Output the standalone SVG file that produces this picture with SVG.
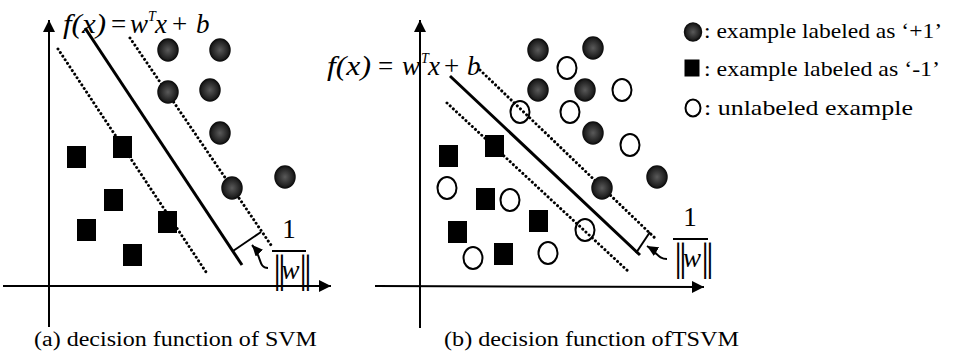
<svg xmlns="http://www.w3.org/2000/svg" width="979" height="359" viewBox="0 0 979 359">
<style>
.ax{stroke:#000;stroke-width:2;fill:none}
.sol{stroke:#000;stroke-width:3;fill:none;stroke-linecap:butt}
.dot{stroke:#000;stroke-width:3;fill:none;stroke-linecap:round;stroke-dasharray:0.01 4.3}
.thin{stroke:#000;stroke-width:2;fill:none}
.pos{fill:url(#g);stroke:#111;stroke-width:1.5}
.unl{fill:#fff;stroke:#000;stroke-width:2}
.neg{fill:#000}
.math{font-family:"Liberation Serif",serif;font-size:27px;fill:#000}
.it{font-style:italic}
.lg{font-family:"Liberation Serif",serif;font-size:21px;fill:#000}
.cap{font-family:"Liberation Serif",serif;font-size:20px;fill:#000}
.bar{font-family:"Liberation Serif",serif;font-size:39px;fill:#000;letter-spacing:-3px}
</style>
<defs>
<radialGradient id="g" cx="0.5" cy="0.5" r="0.5">
<stop offset="0" stop-color="#5a5a5a"/><stop offset="0.6" stop-color="#303030"/><stop offset="1" stop-color="#151515"/>
</radialGradient>
<marker id="ah" markerUnits="userSpaceOnUse" markerWidth="14" markerHeight="12" refX="12" refY="6" orient="auto">
<path d="M0,0 L12,6 L0,12 Z" fill="#000"/>
</marker>
<marker id="ch" markerUnits="userSpaceOnUse" markerWidth="12" markerHeight="10" refX="11" refY="5" orient="auto">
<path d="M0,0 L11,5 L0,10 Z" fill="#000"/>
</marker>
</defs>

<!-- axes -->
<g id="axes">
<line class="ax" x1="49" y1="327" x2="49" y2="20" marker-end="url(#ah)"/>
<line class="ax" x1="3" y1="286" x2="331" y2="286" marker-end="url(#ah)"/>
<line class="ax" x1="420" y1="328" x2="420" y2="20" marker-end="url(#ah)"/>
<line class="ax" x1="375" y1="286" x2="704" y2="287" marker-end="url(#ah)"/>
</g>

<!-- unlabeled (drawn under lines) -->
<g id="unlabeled-b">
<ellipse class="unl" cx="567" cy="68" rx="9.5" ry="11"/>
<ellipse class="unl" cx="622" cy="90" rx="9.5" ry="11"/>
<ellipse class="unl" cx="520" cy="112" rx="9.5" ry="11"/>
<ellipse class="unl" cx="570" cy="112" rx="9.5" ry="11"/>
<ellipse class="unl" cx="630" cy="145" rx="9.5" ry="11"/>
<ellipse class="unl" cx="447" cy="188" rx="9.5" ry="11"/>
<ellipse class="unl" cx="510" cy="200" rx="9.5" ry="11"/>
<ellipse class="unl" cx="585" cy="230" rx="9.5" ry="11"/>
<ellipse class="unl" cx="473" cy="258" rx="9.5" ry="11"/>
<ellipse class="unl" cx="548" cy="253" rx="9.5" ry="11"/>
</g>

<!-- connectors: hyperplanes, margins, arrows -->
<g id="connectors">
<line class="sol" x1="85" y1="28" x2="242" y2="265"/>
<line class="dot" x1="58" y1="49" x2="208" y2="275"/>
<line class="dot" x1="130" y1="38" x2="273" y2="248"/>
<line class="thin" x1="233" y1="251" x2="261" y2="232"/>
<path class="thin" d="M268,268 C258,268 262,256 252,245" marker-end="url(#ch)"/>
<line class="thin" x1="272" y1="251" x2="306" y2="251"/>

<line class="sol" x1="450" y1="76" x2="640" y2="255"/>
<line class="dot" x1="480" y1="70" x2="657" y2="240"/>
<line class="dot" x1="447" y1="103" x2="630" y2="273"/>
<line class="thin" x1="636" y1="253" x2="650" y2="232"/>
<path class="thin" d="M667,259 C658,259 657,252 647,246" marker-end="url(#ch)"/>
<line class="thin" x1="673" y1="239" x2="708" y2="239"/>
</g>

<!-- panel a nodes -->
<g id="pos-a">
<ellipse class="pos" cx="168" cy="50" rx="10" ry="11"/>
<ellipse class="pos" cx="220" cy="50" rx="10" ry="11"/>
<ellipse class="pos" cx="168" cy="92" rx="10" ry="11"/>
<ellipse class="pos" cx="210" cy="90" rx="10" ry="11"/>
<ellipse class="pos" cx="220" cy="133" rx="10" ry="11"/>
<ellipse class="pos" cx="232" cy="188" rx="10" ry="11"/>
<ellipse class="pos" cx="285" cy="177" rx="10" ry="11"/>
</g>
<g id="neg-a">
<rect class="neg" x="67" y="146" width="19" height="22"/>
<rect class="neg" x="113" y="136" width="19" height="22"/>
<rect class="neg" x="104" y="189" width="19" height="22"/>
<rect class="neg" x="77" y="219" width="19" height="22"/>
<rect class="neg" x="158" y="211" width="19" height="22"/>
<rect class="neg" x="123" y="244" width="19" height="22"/>
</g>

<!-- panel b nodes -->
<g id="pos-b">
<ellipse class="pos" cx="538" cy="50" rx="10" ry="11"/>
<ellipse class="pos" cx="593" cy="48" rx="10" ry="11"/>
<ellipse class="pos" cx="538" cy="90" rx="10" ry="11"/>
<ellipse class="pos" cx="585" cy="90" rx="10" ry="11"/>
<ellipse class="pos" cx="593" cy="133" rx="10" ry="11"/>
<ellipse class="pos" cx="602" cy="188" rx="10" ry="11"/>
<ellipse class="pos" cx="657" cy="177" rx="10" ry="11"/>
</g>
<g id="neg-b">
<rect class="neg" x="439" y="145" width="19" height="22"/>
<rect class="neg" x="485" y="135" width="19" height="22"/>
<rect class="neg" x="476" y="188" width="19" height="22"/>
<rect class="neg" x="448" y="221" width="19" height="22"/>
<rect class="neg" x="529" y="210" width="19" height="22"/>
<rect class="neg" x="494" y="243" width="19" height="22"/>
</g>

<!-- formulas -->
<g id="formula-a">
<text class="math"><tspan class="it" x="63" y="33" textLength="43" lengthAdjust="spacingAndGlyphs">f(x)</tspan><tspan x="111" y="33">=</tspan><tspan class="it" x="130" y="33">w</tspan><tspan class="it" x="148" y="21" font-size="14">T</tspan><tspan class="it" x="155" y="33">x</tspan><tspan x="172" y="33">+</tspan><tspan class="it" x="196" y="33">b</tspan></text>
</g>
<g id="formula-b">
<text class="math"><tspan class="it" x="327" y="75" textLength="44" lengthAdjust="spacingAndGlyphs">f(x)</tspan><tspan x="378" y="75">=</tspan><tspan class="it" x="402" y="75">w</tspan><tspan class="it" x="421" y="63" font-size="14">T</tspan><tspan class="it" x="428" y="75">x</tspan><tspan x="444" y="75">+</tspan><tspan class="it" x="467" y="75">b</tspan></text>
</g>

<!-- margin fractions -->
<g id="margin-a">
<text class="math" x="289" y="238" text-anchor="middle" font-size="26">1</text>
<text class="bar" text-anchor="middle"><tspan x="278" y="282">||</tspan><tspan x="304" y="282">||</tspan></text>
<text class="math it" x="290.5" y="279" text-anchor="middle" font-size="16">w</text>
</g>
<g id="margin-b">
<text class="math" x="690" y="226" text-anchor="middle" font-size="26">1</text>
<text class="bar" text-anchor="middle" font-size="41"><tspan x="679" y="270">||</tspan><tspan x="706" y="270">||</tspan></text>
<text class="math it" x="692" y="267" text-anchor="middle" font-size="16">w</text>
</g>

<!-- legend -->
<g id="legend">
<ellipse class="pos" cx="693" cy="32" rx="8.5" ry="9"/>
<text class="lg" x="704" y="38" textLength="238" lengthAdjust="spacingAndGlyphs">: example labeled as ‘+1’</text>
<rect class="neg" x="684.5" y="59.5" width="15" height="17"/>
<text class="lg" x="704" y="76" textLength="236" lengthAdjust="spacingAndGlyphs">: example labeled as ‘-1’</text>
<ellipse class="unl" cx="693" cy="108" rx="7.5" ry="8.5"/>
<text class="lg" x="704" y="115" textLength="209" lengthAdjust="spacingAndGlyphs">: unlabeled example</text>
</g>

<!-- captions -->
<g id="captions">
<text class="cap" x="34" y="346" textLength="283" lengthAdjust="spacingAndGlyphs">(a) decision function of  SVM</text>
<text class="cap" x="444" y="346" textLength="295" lengthAdjust="spacingAndGlyphs">(b) decision function ofTSVM</text>
</g>
</svg>
